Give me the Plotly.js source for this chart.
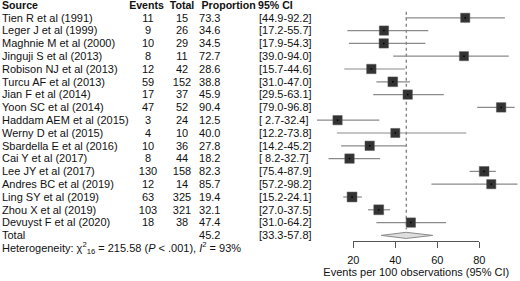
<!DOCTYPE html>
<html>
<head>
<meta charset="utf-8">
<script src="https://cdn.plot.ly/plotly-3.0.1.min.js"></script>
<style>html,body{margin:0;padding:0;background:#fff;}#chart{width:520px;height:281px;}</style>
</head>
<body>
<div id="chart"></div>
<script>
var sources = ["Tien R et al (1991)", "Leger J et al (1999)", "Maghnie M et al (2000)", "Jinguji S et al (2013)", "Robison NJ et al (2013)", "Turcu AF et al (2013)", "Jian F et al (2014)", "Yoon SC et al (2014)", "Haddam AEM et al (2015)", "Werny D et al (2015)", "Sbardella E et al (2016)", "Cai Y et al (2017)", "Lee JY et al (2017)", "Andres BC et al (2019)", "Ling SY et al (2019)", "Zhou X et al (2019)", "Devuyst F et al (2020)"];
var events = [11, 9, 10, 8, 12, 59, 17, 47, 3, 4, 10, 8, 130, 12, 63, 103, 18];
var totals = [15, 26, 29, 11, 42, 152, 37, 52, 24, 10, 36, 44, 158, 14, 325, 321, 38];
var proportion = [73.3, 34.6, 34.5, 72.7, 28.6, 38.8, 45.9, 90.4, 12.5, 40.0, 27.8, 18.2, 82.3, 85.7, 19.4, 32.1, 47.4];
var ciLow = [44.9, 17.2, 17.9, 39.0, 15.7, 31.0, 29.5, 79.0, 2.7, 12.2, 14.2, 8.2, 75.4, 57.2, 15.2, 27.0, 31.0];
var ciHigh = [92.2, 55.7, 54.3, 94.0, 44.6, 47.0, 63.1, 96.8, 32.4, 73.8, 45.2, 32.7, 87.9, 98.2, 24.1, 37.5, 64.2];
var totalProp = 45.2, totalLow = 33.3, totalHigh = 57.8;
var tickVals = [20, 40, 60, 80];
var headers = ["Source", "Events", "Total", "Proportion", "95% CI"];
var heterogeneity = "Heterogeneity: χ<sup>2</sup><sub>16</sub> = 215.58 (<i>P</i> < .001), <i>I</i><sup>2</sup> = 93%";
var xTitle = "Events per 100 observations (95% CI)";

var FONT = "Liberation Sans, Arial, sans-serif";
var FS = 11;
var n = sources.length;
var rows = sources.map(function(_, i){ return i + 1; });
var totalRow = n + 1, hetRow = n + 2;

function fmt(v){ var s = v.toFixed(1); return s.length < 4 ? " " + s : s; }
var ciText = ciLow.map(function(l, i){ return "[" + fmt(l) + "-" + fmt(ciHigh[i]) + "]"; });

function textTrace(xpx, ys, texts, pos, bold){
  return {type:'scatter', mode:'text', xaxis:'x3', yaxis:'y', x: ys.map(function(){return xpx;}), y: ys,
    text: texts.map(function(t){ return bold ? "<b>"+t+"</b>" : String(t); }),
    textposition: pos, cliponaxis:false, hoverinfo:'skip', showlegend:false,
    textfont:{family:FONT, size: bold ? 10.6 : FS, color:'#111'}};
}

var traces = [];
// dotted summary line
traces.push({type:'scatter', mode:'lines', x:[totalProp, totalProp], y:[0.45, 17.45], xaxis:'x', yaxis:'y',
  line:{color:'#555', width:1, dash:'dot'}, hoverinfo:'skip', showlegend:false});
// diamond
var dh = 0.24, dy = totalRow - 0.08;
traces.push({type:'scatter', mode:'lines', x:[totalLow, totalProp, totalHigh, totalProp, totalLow],
  y:[dy, dy - dh, dy, dy + dh, dy],
  fill:'toself', fillcolor:'#dedede', line:{color:'#8a8a8a', width:1}, xaxis:'x', yaxis:'y', hoverinfo:'skip', showlegend:false});
// squares with CIs
var ys = rows.map(function(r){return r - 0.08;});
traces.push({type:'scatter', mode:'markers', x: proportion, y: ys, xaxis:'x', yaxis:'y',
  error_x:{type:'data', symmetric:false, array: ciHigh.map(function(h,i){return h - proportion[i];}),
    arrayminus: ciLow.map(function(l,i){return proportion[i] - l;}), width:0, thickness:1.2, color:'#8a8a8a'},
  marker:{symbol:'square', size: totals.map(function(t){ return 8.6 + 0.5*Math.log10(t); }), color:'#333', opacity:1, line:{color:'#555', width:0.5}},
  cliponaxis:false, hoverinfo:'skip', showlegend:false});
traces.push({type:'scatter', mode:'markers', x: proportion, y: ys, xaxis:'x', yaxis:'y',
  marker:{symbol:'square', size:1.5, color:'#000', opacity:1}, cliponaxis:false, hoverinfo:'skip', showlegend:false});
// dummy trace for tick axis
traces.push({type:'scatter', mode:'markers', x:[20, 80], y:[0.5, 0.5], xaxis:'x2', yaxis:'y2', marker:{opacity:0}, hoverinfo:'skip', showlegend:false});

// text columns
traces.push(textTrace(2, [0], [headers[0]], 'middle right', true));
traces.push(textTrace(146.5, [0], [headers[1]], 'middle center', true));
traces.push(textTrace(182, [0], [headers[2]], 'middle center', true));
traces.push(textTrace(201.5, [0], [headers[3]], 'middle right', true));
traces.push(textTrace(258, [0], [headers[4]], 'middle right', true));
traces.push(textTrace(2, rows, sources, 'middle right', false));
traces.push(textTrace(148, rows, events, 'middle center', false));
traces.push(textTrace(182, rows, totals, 'middle center', false));
traces.push(textTrace(220.5, rows, proportion.map(function(p){return p.toFixed(1);}), 'middle left', false));
traces.push(textTrace(259, rows, ciText, 'middle right', false));
traces.push(textTrace(2, [totalRow], ["Total"], 'middle right', false));
traces.push(textTrace(220.5, [totalRow], [totalProp.toFixed(1)], 'middle left', false));
traces.push(textTrace(259, [totalRow], ["[" + fmt(totalLow) + "-" + fmt(totalHigh) + "]"], 'middle right', false));
traces.push(textTrace(2, [hetRow], [heterogeneity], 'middle right', false));

var px0 = 311.3, ppu = 2.1;          // x: pixel of value 0, pixels per unit
var row0 = 6.0, rowH = 12.8;          // y: pixel of header row, row height
var axisPx = 241;                     // pixel of axis line
var layout = {
  width:520, height:281, margin:{l:0, r:0, t:0, b:0}, paper_bgcolor:'#fff', plot_bgcolor:'rgba(0,0,0,0)',
  showlegend:false, font:{family:FONT, size:FS, color:'#111'},
  xaxis:{domain:[0,1], range:[-px0/ppu, (520-px0)/ppu], visible:false, anchor:'y'},
  xaxis2:{domain:[(px0+20*ppu)/520, (px0+80*ppu)/520], range:[20,80], anchor:'y2', showline:true, linecolor:'#555', linewidth:1,
    ticks:'outside', ticklen:6, tickcolor:'#555', tickwidth:1, tickvals:tickVals, showgrid:false, zeroline:false,
    ticklabelstandoff:3,
    tickfont:{family:FONT, size:FS, color:'#111'},
    title:{text:xTitle, font:{family:FONT, size:FS, color:'#111'}, standoff:3}},
  xaxis3:{domain:[0,1], range:[0,520], visible:false, anchor:'y'},
  yaxis:{domain:[0,1], range:[(281-row0)/rowH, -row0/rowH], visible:false, anchor:'x'},
  yaxis2:{domain:[(281-axisPx)/281, 1], range:[0,1], visible:false, anchor:'x2'}
};
Plotly.newPlot('chart', traces, layout, {staticPlot:true, displayModeBar:false});
</script>
</body>
</html>
